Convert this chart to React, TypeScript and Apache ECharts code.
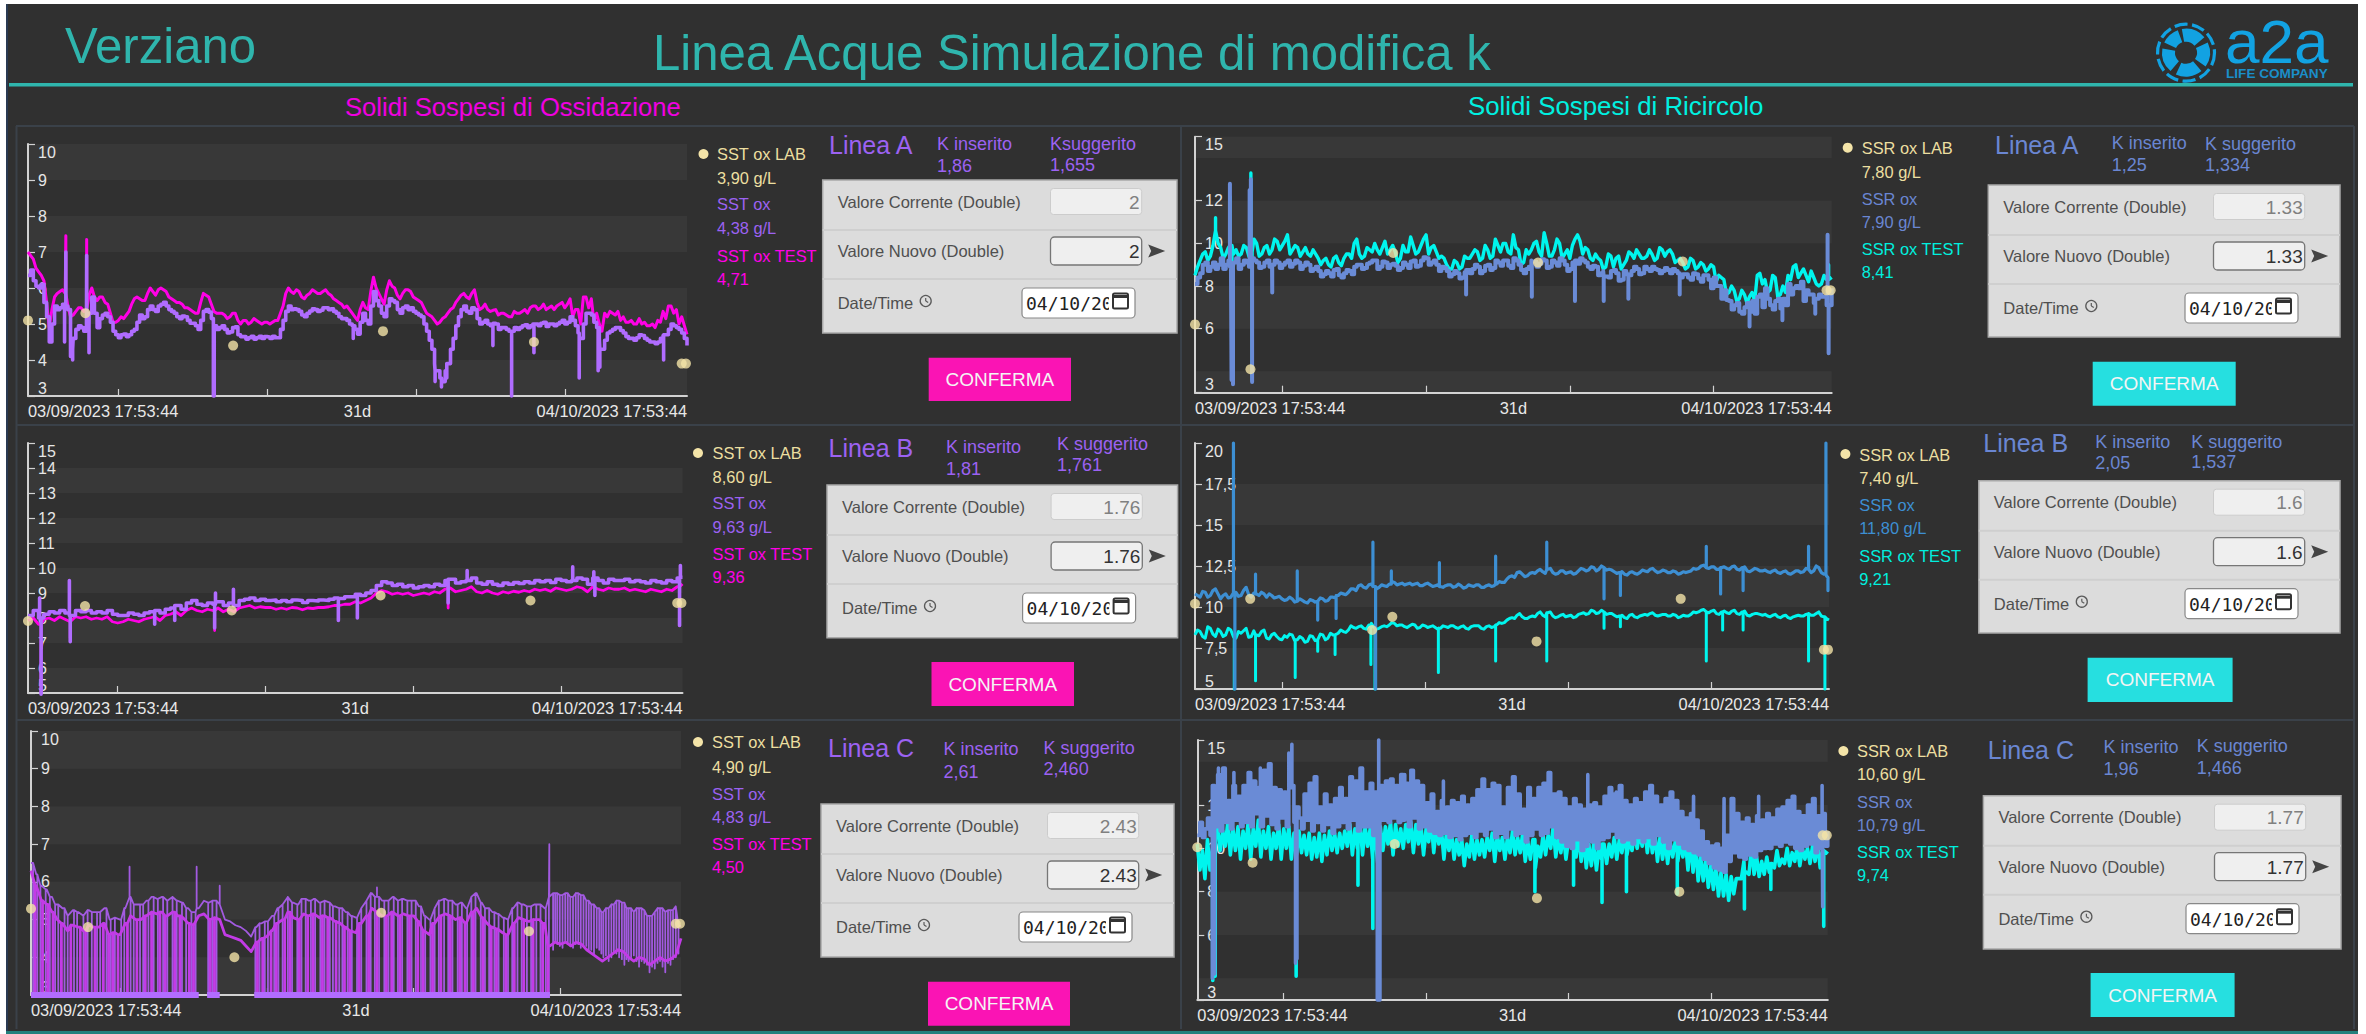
import React, { useEffect, useRef } from "react";
import * as echarts from "echarts";

const FONT = "Liberation Sans, Arial, sans-serif";
const SPAN_DAYS = 31;
const xTickDays = [4.25, 11.25, 18.25, 25.25];
const xLabelDays = [0, 15.5, 31];
const xLabelTexts = ["03/09/2023 17:53:44", "31d", "04/10/2023 17:53:44"];

// ---------- Solidi Sospesi di Ossidazione, Linea A
const a1Ox = [6.35,6.2,6.0,5.6,4.5,5.5,5.45,5.5,4.3,4.85,4.9,4.9,5.75,4.9,5.25,5.2,4.8,4.62,4.72,4.7,4.85,5.25,5.2,5.5,5.35,5.55,5.5,5.35,5.2,5.22,5.1,5.02,4.85,5.35,5.33,4.95,4.9,4.85,4.78,4.92,4.65,4.58,4.66,4.62,4.6,4.64,4.66,4.62,5.1,5.5,5.42,5.35,5.2,5.36,5.4,5.38,5.45,5.42,5.3,5.15,5.1,4.95,4.72,5.3,5.0,5.9,5.5,5.2,5.7,5.6,5.3,5.5,5.45,5.3,5.2,4.8,4.3,3.7,3.4,3.9,4.6,5.2,5.5,5.3,5.4,5.0,5.1,4.95,5.0,4.9,4.85,4.8,4.85,4.95,4.9,5.0,4.95,5.05,5.0,4.95,5.05,5.0,5.2,4.95,4.6,5.3,5.25,4.9,4.3,4.75,4.85,4.9,4.75,4.6,4.55,4.7,4.6,4.5,4.45,4.6,4.7,5.0,4.9,4.75,4.4];
const a1OxMid = [6.5,6.05,6.1,5.2,5.0,5.4,5.55,5.4,4.6,4.95,4.8,5.3,5.3,5.15,5.3,5.05,4.7,4.7,4.65,4.8,5.05,5.15,5.4,5.4,5.5,5.6,5.4,5.3,5.15,5.2,5.02,4.95,5.1,5.4,5.15,4.85,4.95,4.75,4.9,4.7,4.65,4.62,4.58,4.66,4.65,4.6,4.62,4.85,5.35,5.4,5.4,5.25,5.3,5.42,5.35,5.45,5.4,5.35,5.2,5.15,5.0,4.85,5.05,5.1,5.5,5.65,5.3,5.5,5.65,5.4,5.45,5.4,5.35,5.25,5.0,4.55,3.9,3.5,3.7,4.3,4.95,5.4,5.35,5.45,5.15,5.05,5.0,5.02,4.85,4.9,4.8,4.9,4.9,4.98,4.95,5.0,5.02,4.93,5.0,5.0,5.1,5.05,5.1,4.75,5.0,5.3,5.05,4.6,4.55,4.8,4.9,4.82,4.65,4.6,4.62,4.68,4.55,4.5,4.5,4.68,4.85,4.95,4.85,4.6];
const a1OxSpikes = [[1.72,4.5],[1.78,7.0],[2.0,4.1],[2.1,4.0],[2.76,6.9],[2.87,4.2],[8.72,3],[8.76,3],[15.3,4.6],[19.15,3.4],[19.45,3.25],[19.7,3.5],[21.87,4.4],[22.75,3],[23.8,4.2],[25.93,3.5],[26.82,3.7],[26.9,3.8],[29.9,4.0]];
const a1Test = [7.0,6.8,6.45,6.2,4.9,5.75,5.9,5.85,5.2,5.35,5.45,5.4,6.0,5.65,5.75,5.55,5.05,5.1,5.15,5.35,5.7,5.7,5.65,6.0,5.8,6.0,5.9,5.7,5.6,5.55,5.45,5.35,5.3,5.85,5.75,5.35,5.3,5.25,5.2,5.3,5.0,5.1,5.05,5.1,5.0,5.05,5.05,5.1,5.5,6.0,5.85,5.9,5.7,5.85,5.9,5.85,5.95,5.8,5.65,5.55,5.5,5.3,5.1,5.6,5.4,6.3,5.85,5.55,6.2,6.0,5.7,5.95,5.9,5.7,5.6,5.3,5.2,5.0,5.15,5.3,5.45,5.7,5.85,5.7,5.95,5.4,5.55,5.35,5.4,5.3,5.25,5.2,5.3,5.35,5.3,5.5,5.4,5.55,5.45,5.4,5.55,5.45,5.7,5.4,5.0,5.75,5.7,5.3,4.8,5.2,5.3,5.35,5.2,5.05,5.0,5.15,5.05,4.95,4.9,5.05,5.15,5.5,5.4,5.2,4.71];
const a1TestMid = [6.9,6.55,6.35,5.6,5.4,5.85,5.95,5.5,5.25,5.45,5.35,5.8,5.75,5.75,5.6,5.3,5.05,5.2,5.25,5.55,5.75,5.65,5.85,5.9,5.95,5.95,5.75,5.65,5.6,5.45,5.4,5.3,5.6,5.8,5.55,5.3,5.3,5.15,5.3,5.1,5.1,5.0,5.15,5.05,5.05,5.0,5.1,5.3,5.85,5.9,5.95,5.75,5.8,5.95,5.85,5.9,5.85,5.7,5.6,5.45,5.4,5.2,5.4,5.45,5.9,6.0,5.7,5.95,6.05,5.8,5.85,5.95,5.75,5.65,5.45,5.25,5.1,5.05,5.2,5.4,5.6,5.8,5.75,5.85,5.6,5.45,5.4,5.38,5.25,5.3,5.2,5.35,5.3,5.4,5.45,5.5,5.45,5.4,5.5,5.5,5.6,5.55,5.2,5.4,5.75,5.45,5.05,5.0,5.3,5.35,5.25,5.1,5.05,5.1,5.0,5.0,4.95,5.0,5.1,5.35,5.5,5.3,5.0];
const a1TestSpikes = [[1.78,7.45],[2.76,7.35]];
const a1Lab = [[0,5.1],[2.7,5.3],[9.65,4.4],[16.7,4.8],[23.8,4.5],[30.75,3.9],[30.95,3.9]];

// ---------- Linea B
const a2Ox = [8.1,8.3,8.0,8.15,8.25,8.2,8.3,8.2,8.1,8.3,8.25,8.3,8.2,8.25,8.2,8.3,8.15,8.1,8.1,8.2,8.15,8.1,8.2,8.25,8.3,8.2,8.35,8.4,8.5,8.35,8.6,8.7,8.55,8.5,8.6,8.55,8.65,8.5,8.6,8.5,8.7,8.75,8.8,8.7,8.75,8.7,8.72,8.65,8.7,8.65,8.72,8.7,8.62,8.7,8.68,8.72,8.7,8.75,8.8,8.78,8.85,8.85,8.95,8.9,9.0,9.1,9.3,9.45,9.4,9.3,9.35,9.25,9.3,9.2,9.25,9.3,9.25,9.35,9.3,9.5,9.55,9.4,9.45,9.5,9.6,9.4,9.35,9.45,9.35,9.3,9.4,9.35,9.42,9.38,9.45,9.4,9.5,9.45,9.5,9.42,9.55,9.5,9.45,9.5,9.6,9.55,9.35,9.6,9.5,9.4,9.55,9.5,9.5,9.55,9.45,9.5,9.45,9.4,9.5,9.45,9.4,9.5,9.45,9.6,9.63];
const a2OxSpikes = [[0.55,8.8],[0.62,4.95],[1.96,9.5],[2.0,7.05],[6.0,7.75],[6.95,7.9],[8.84,7.6],[8.88,9.0],[9.73,9.15],[14.7,7.9],[15.6,8.0],[19.9,8.6],[20.8,9.9],[25.8,10.05],[26.8,9.85],[26.85,8.9],[30.9,10.1],[30.86,7.7]];
const a2Test = [7.9,8.0,7.75,7.95,8.0,7.9,8.05,7.95,7.85,8.05,8.0,8.05,7.95,8.0,7.95,8.05,7.85,7.8,7.85,7.95,7.9,7.85,7.95,8.0,8.05,7.9,8.1,8.15,8.25,8.1,8.3,8.4,8.3,8.25,8.35,8.3,8.4,8.25,8.35,8.25,8.4,8.45,8.5,8.4,8.45,8.42,8.42,8.35,8.4,8.35,8.42,8.4,8.33,8.4,8.38,8.42,8.42,8.45,8.5,8.5,8.55,8.55,8.65,8.6,8.7,8.8,9.0,9.1,9.05,8.95,9.0,8.95,9.0,8.9,8.95,9.0,8.95,9.05,9.0,9.15,9.2,9.05,9.1,9.15,9.25,9.05,9.0,9.1,9.0,8.95,9.05,9.0,9.07,9.03,9.1,9.05,9.15,9.1,9.15,9.07,9.2,9.15,9.1,9.15,9.25,9.2,9.05,9.25,9.15,9.1,9.2,9.15,9.15,9.2,9.1,9.15,9.1,9.05,9.15,9.1,9.05,9.15,9.1,9.25,9.36];
const a2TestSpikes = [[0.62,5.0],[2.0,7.2],[8.84,7.5],[19.9,8.4],[30.86,7.7]];
const a2Lab = [[0,7.88],[2.7,8.48],[9.65,8.3],[16.7,8.9],[23.8,8.7],[30.75,8.6],[30.95,8.6]];

// ---------- Linea C
const a3Ox = [6.5,6.2,5.9,5.8,5.6,5.4,5.3,5.1,5.25,5.2,5.1,5.25,5.2,5.2,5.3,5.0,5.05,5.0,5.3,5.6,5.4,5.4,5.5,5.6,5.55,5.6,5.5,5.6,5.5,5.45,5.3,5.2,5.3,5.5,5.45,5.5,5.4,5.0,4.95,4.85,4.8,4.7,4.55,4.8,4.9,4.95,5.1,5.3,5.4,5.6,5.45,5.4,5.55,5.5,5.55,5.45,5.5,5.45,5.35,5.3,5.2,5.1,5.05,5.3,5.5,5.7,5.6,5.5,5.5,5.6,5.5,5.55,5.5,5.5,5.35,5.1,5.0,5.3,5.5,5.55,5.5,5.4,5.45,5.3,5.6,5.7,5.45,5.3,5.2,5.15,5.05,5.0,5.3,5.45,5.4,5.35,5.4,5.4,5.3,5.6,5.7,5.65,5.7,5.6,5.7,5.65,5.5,5.4,5.3,5.2,5.3,5.4,5.5,5.45,5.3,5.2,5.3,5.25,5.1,5.2,5.3,5.2,5.25,5.35,4.83];
const a3OxDrops = [0.1,0.3,0.45,0.7,0.9,1.15,1.3,1.6,1.75,2.05,2.2,2.5,2.7,2.9,3.15,3.3,3.6,3.8,4.0,4.3,4.45,4.75,4.9,5.2,5.35,5.6,5.85,6.05,6.3,6.5,6.75,6.95,7.2,7.4,7.65,7.85,8.45,8.65,8.85,10.7,10.9,11.15,11.3,11.6,11.8,12.0,12.25,12.45,12.7,12.9,13.1,13.35,13.55,13.8,14.0,14.25,14.4,14.7,14.85,15.1,15.3,15.55,15.75,16.0,16.2,16.4,16.6,16.85,17.05,17.3,17.5,17.7,17.95,18.15,18.35,18.6,18.8,19.05,19.25,19.45,19.7,19.9,20.1,20.35,20.55,20.8,21.0,21.2,21.45,21.65,21.85,22.1,22.3,22.55,22.75,22.95,23.2,23.4,23.65,23.85,24.1,24.3,24.55,24.7];
const a3OxSpikes = [[4.7,6.4],[7.9,6.4],[9.0,5.9],[16.5,5.85],[24.72,7.0],[24.9,4.2],[25.0,4.4],[25.1,4.35],[25.22,4.3],[25.35,4.25],[25.48,4.4],[25.6,4.4],[25.72,4.3],[25.85,4.25],[25.98,4.35],[26.1,4.35],[26.22,4.25],[26.35,4.3],[26.48,4.3],[26.6,4.2],[26.72,4.2],[26.85,4.1],[26.98,4.25],[27.1,4.2],[27.2,4.1],[27.3,4.0],[27.42,4.05],[27.55,3.9],[27.68,4.0],[27.8,4.15],[27.92,4.1],[28.05,4.0],[28.18,3.95],[28.3,3.8],[28.4,3.95],[28.5,3.9],[28.62,4.0],[28.75,4.05],[28.88,3.9],[29,3.75],[29.12,3.9],[29.25,3.85],[29.38,3.8],[29.5,3.6],[29.62,3.75],[29.75,3.7],[29.88,3.85],[30,3.9],[30.12,3.75],[30.25,3.6],[30.38,3.85],[30.5,3.8],[30.62,3.95],[30.75,4.0],[30.88,4.1]];
const a3Test = [6.3,5.9,5.5,5.4,5.2,5.0,4.9,4.7,4.85,4.8,4.7,4.85,4.8,4.8,4.9,4.6,4.65,4.6,4.9,5.1,5.0,5.0,5.1,5.2,5.15,5.2,5.1,5.2,5.1,5.05,4.9,4.85,5.1,5.15,5.0,5.05,5.0,4.6,4.55,4.5,4.45,4.3,4.15,4.4,4.5,4.55,4.7,4.9,5.0,5.2,5.05,5.0,5.15,5.1,5.15,5.05,5.1,5.05,4.95,4.9,4.8,4.7,4.65,4.9,5.1,5.3,5.2,5.1,5.1,5.2,5.1,5.15,5.1,5.1,4.95,4.7,4.6,4.9,5.1,5.15,5.1,5.0,5.05,4.9,5.2,5.3,5.05,4.9,4.8,4.75,4.65,4.6,4.9,5.05,5.0,4.95,5.0,5.0,4.9,4.3,4.4,4.35,4.4,4.3,4.4,4.35,4.2,4.1,4.0,3.9,4.0,4.1,4.2,4.15,4.0,3.9,4.0,3.95,3.8,3.9,4.0,3.9,3.95,4.05,4.5];
const a3TestDrops = [0.2,0.55,0.8,1.05,1.45,1.9,2.35,2.6,3.05,3.45,3.7,3.9,4.15,4.6,5.05,5.45,5.75,6.15,6.4,6.85,7.1,7.55,7.75,8.55,8.75,10.8,11.05,11.45,11.7,12.1,12.35,12.8,13.2,13.45,13.9,14.15,14.55,14.95,15.2,15.65,16.1,16.5,16.95,17.2,17.6,18.05,18.45,18.7,19.15,19.55,20.0,20.45,20.7,21.1,21.55,21.95,22.2,22.65,23.05,23.5,23.95,24.4,24.65];
const a3Floor = [[0,3],[8.0,3],null,[8.4,3],[9.0,3],null,[10.65,3],[24.75,3]];
const a3Lab = [[0,5.29],[2.72,4.8],[9.7,4.0],[16.7,5.18],[23.75,4.69],[30.75,4.89],[30.95,4.89]];

// ---------- Solidi Sospesi di Ricircolo, Linea A
const b1Ox = [8.1,8.6,9.1,8.9,8.8,9.3,9.0,8.9,9.3,9.0,9.1,9.3,9.1,8.9,9.2,9.0,9.1,9.0,9.2,9.05,9.1,8.95,9.0,8.8,8.7,8.55,8.6,8.75,8.5,8.6,8.7,8.9,9.0,8.85,9.1,9.2,8.9,9.1,9.0,8.95,8.85,9.0,9.15,8.9,9.2,9.3,9.1,9.0,8.9,8.7,8.55,8.6,8.4,8.75,8.8,8.9,8.7,9.0,8.85,9.1,9.2,8.95,9.3,9.0,8.6,8.9,9.15,9.05,9.2,8.9,9.1,9.3,9.0,8.8,9.2,9.3,9.1,8.8,8.9,8.6,8.45,8.7,8.6,8.3,8.55,8.7,8.8,8.6,8.8,8.9,8.75,8.7,8.75,8.8,8.6,8.55,8.4,8.6,8.35,8.5,8.3,8.4,8.0,7.8,7.3,7.1,6.8,7.0,6.8,6.7,7.6,7.9,7.1,7.3,6.95,7.1,7.6,8.0,8.2,7.8,7.6,7.4,7.5,7.1,7.9];
const b1OxMid = [8.4,9.0,8.7,9.1,9.0,8.8,9.2,9.1,8.8,9.2,8.9,9.2,8.85,9.1,8.9,9.2,8.85,9.1,8.9,9.2,8.8,9.1,8.7,8.9,8.45,8.7,8.45,8.8,8.4,8.75,8.55,9.0,8.8,9.05,9.2,8.8,9.15,8.85,9.05,8.75,9.1,8.85,9.2,8.95,9.35,9.0,9.2,8.7,8.85,8.45,8.7,8.35,8.65,8.6,9.0,8.6,8.95,8.75,9.2,8.95,9.2,8.85,9.2,8.75,8.8,9.2,8.9,9.25,8.85,9.2,8.95,9.2,8.7,9.1,9.05,9.2,8.9,8.95,8.5,8.7,8.4,8.75,8.25,8.7,8.5,8.9,8.55,8.9,8.7,8.8,8.6,8.85,8.6,8.7,8.4,8.55,8.3,8.55,8.2,8.5,7.9,8.0,7.4,7.35,6.9,7.2,6.7,7.2,7.3,7.5,7.0,7.4,6.9,7.4,7.4,8.1,7.9,7.9,7.3,7.6,7.2,7.6];
const b1OxSpikes = [[1.7,12.8],[1.78,3.6],[1.85,3.4],[2.66,12.5],[2.72,13.0],[2.78,3.5],[3.76,7.7],[13.2,7.6],[16.4,7.5],[18.5,7.3],[19.9,7.3],[21.1,7.4],[23.6,7.6],[27,6.1],[28.6,6.4],[30.2,6.7],[30.8,10.4],[30.85,4.85]];
const b1Test = [8.5,9.2,9.6,9.4,10.6,9.8,9.5,9.9,9.7,9.5,9.8,9.6,10.0,9.5,9.9,9.7,10.1,9.9,10.4,9.7,9.8,9.6,9.5,9.7,9.3,9.2,9.0,9.3,9.1,9.3,9.5,10.0,9.5,9.4,9.7,10.0,9.5,10.1,9.7,9.6,9.3,9.6,10.3,9.5,9.9,10.4,9.8,9.6,9.4,9.0,8.8,9.1,8.9,9.3,9.5,9.6,9.3,9.7,9.4,9.9,10.0,9.6,10.4,9.7,9.1,9.5,10.0,9.6,10.5,9.4,9.7,10.0,9.5,9.3,10.2,10.1,9.8,9.3,9.5,9.2,8.9,9.4,9.3,8.8,9.2,9.5,9.7,9.3,9.4,9.5,9.3,9.7,9.6,9.5,9.2,9.1,8.9,9.2,8.9,9.0,8.8,8.9,8.5,8.3,7.7,7.8,7.4,7.6,7.5,7.3,8.6,8.3,7.8,8.4,7.6,7.7,8.3,9.0,8.6,8.5,8.7,8.1,8.1,8.3,8.41];
const b1TestMid = [8.9,9.5,9.2,9.9,10.0,9.3,9.8,9.5,9.4,9.9,9.4,10.2,9.4,9.8,9.5,10.2,9.7,10.1,9.5,9.9,9.4,9.8,9.4,9.5,9.0,9.3,8.9,9.4,8.95,9.5,9.3,10.2,9.3,9.8,9.6,9.7,9.8,9.5,9.9,9.1,9.9,9.6,9.9,9.6,10.2,9.5,9.9,9.3,9.3,8.8,9.2,8.8,9.4,9.3,9.7,9.2,9.9,9.3,10.2,9.6,10.0,9.5,9.8,9.0,9.7,9.7,10.1,9.4,10.0,9.4,10.2,9.3,9.7,9.9,10.4,9.5,9.7,9.2,9.3,8.8,9.5,8.9,9.4,9.0,9.6,9.3,9.5,9.3,9.7,9.2,9.8,9.4,9.7,9.1,9.3,8.8,9.3,8.8,9.1,8.7,9.0,8.2,8.4,7.6,8.0,7.3,7.8,7.2,7.7,8.5,8.1,7.7,8.5,7.5,8.0,8.5,8.9,8.4,8.8,8.2,8.4,8.0,8.5];
const b1TestSpikes = [[1.7,12.2],[1.8,3.8],[2.72,13.3],[2.78,3.6],[1.0,11.2],[30.85,9.0]];
const b1Lab = [[0,6.2],[2.7,4.1],[9.65,9.55],[16.7,9.1],[23.75,9.15],[30.75,7.8],[30.95,7.8]];

// ---------- Linea B
const b2Ox = [10.8,10.6,10.9,10.7,11.1,10.5,10.8,10.6,10.9,10.7,11.2,10.6,10.8,10.9,10.6,10.7,10.6,10.5,10.45,10.5,10.35,10.4,10.25,10.4,10.35,10.5,10.4,10.6,10.7,10.8,10.9,11.1,11.3,11.2,11.35,11.25,11.2,11.3,11.4,11.5,11.4,11.35,11.45,11.4,11.3,11.4,11.35,11.3,11.25,11.3,11.35,11.25,11.3,11.2,11.3,11.35,11.2,11.3,11.25,11.4,11.5,11.7,11.9,12.1,12.0,11.9,12.1,12.2,12.15,12.3,12.1,12.05,12.2,12.1,12.0,12.2,12.3,12.25,12.4,12.3,12.4,12.3,12.15,12.1,12.0,12.1,12.05,12.1,12.2,12.3,12.2,12.15,12.2,12.1,12.15,12.05,12.1,12.2,12.3,12.5,12.4,12.45,12.3,12.4,12.35,12.45,12.3,12.4,12.2,12.25,12.3,12.2,12.15,12.2,12.1,12.15,12.05,12.1,12.2,12.15,12.3,12.2,12.4,12.0,11.8];
const b2OxMid = [10.7,10.95,10.6,11.0,10.8,10.7,10.55,10.85,10.65,11.0,10.75,10.85,10.7,10.8,10.8,10.55,10.65,10.4,10.6,10.3,10.5,10.3,10.45,10.3,10.55,10.35,10.6,10.55,10.85,10.75,11.1,11.0,11.35,11.15,11.4,11.1,11.35,11.25,11.55,11.35,11.45,11.4,11.35,11.45,11.3,11.45,11.25,11.35,11.2,11.35,11.2,11.4,11.15,11.35,11.25,11.35,11.2,11.35,11.3,11.55,11.5,11.85,11.8,12.15,11.85,12.05,12.05,12.3,12.05,12.35,12.0,12.2,12.05,12.15,12.05,12.35,12.2,12.45,12.2,12.5,12.25,12.25,12.05,12.15,11.95,12.15,12.0,12.25,12.15,12.35,12.1,12.25,12.1,12.2,12.0,12.15,12.15,12.35,12.35,12.55,12.35,12.45,12.3,12.45,12.3,12.5,12.25,12.45,12.15,12.35,12.2,12.25,12.1,12.25,12.05,12.2,12.0,12.2,12.1,12.35,12.1,12.5,12.1,11.9];
const b2OxSpikes = [[1.88,20],[1.95,5],[2.96,12.0],[5,12.2],[6,9.2],[6.9,9.3],[8.7,13.95],[8.83,5],[9.6,12.2],[11.95,12.7],[14.7,13.1],[17.2,13.95],[20,10.5],[20.8,10.7],[25,13.7],[25.7,10.8],[26.8,11.0],[30,13.7],[30.85,20],[30.95,11]];
const b2Test = [8.3,8.5,8.1,8.7,8.2,8.5,8.3,8.6,8.1,8.4,8.7,8.2,8.3,8.5,8.1,8.3,8.2,8.0,8.15,8.3,8.0,8.1,7.9,8.2,8.0,8.3,8.1,8.3,8.4,8.5,8.6,8.75,8.8,8.7,8.9,8.75,8.7,8.85,8.9,9.0,8.9,8.8,8.85,8.9,8.75,8.85,8.8,8.75,8.7,8.8,8.85,8.75,8.8,8.7,8.8,8.85,8.7,8.8,8.75,8.9,9.0,9.2,9.35,9.5,9.4,9.3,9.45,9.6,9.5,9.65,9.45,9.4,9.55,9.45,9.35,9.55,9.65,9.6,9.75,9.65,9.7,9.6,9.5,9.45,9.35,9.5,9.4,9.45,9.55,9.6,9.5,9.5,9.55,9.45,9.5,9.4,9.45,9.55,9.65,9.8,9.7,9.75,9.6,9.7,9.65,9.75,9.6,9.7,9.5,9.55,9.6,9.5,9.45,9.5,9.4,9.45,9.35,9.4,9.5,9.45,9.6,9.5,9.7,9.4,9.21];
const b2TestMid = [8.6,8.2,8.8,8.35,8.65,8.2,8.7,8.2,8.5,8.55,8.15,8.55,8.25,8.6,8.05,8.4,8.05,8.25,8.35,7.95,8.2,7.85,8.25,7.95,8.35,8.0,8.4,8.3,8.6,8.45,8.85,8.7,8.85,8.65,9.0,8.65,8.8,8.8,9.05,8.85,8.9,8.75,8.95,8.7,8.9,8.75,8.85,8.65,8.85,8.75,8.85,8.7,8.85,8.65,8.85,8.85,8.65,8.85,8.8,9.05,9.05,9.3,9.3,9.6,9.3,9.4,9.4,9.7,9.4,9.7,9.35,9.5,9.4,9.5,9.4,9.6,9.55,9.8,9.6,9.8,9.55,9.6,9.4,9.5,9.3,9.55,9.35,9.5,9.5,9.65,9.45,9.55,9.45,9.55,9.35,9.5,9.45,9.7,9.7,9.85,9.65,9.8,9.55,9.75,9.6,9.8,9.55,9.75,9.45,9.6,9.55,9.55,9.4,9.55,9.35,9.5,9.3,9.45,9.45,9.55,9.5,9.6,9.45,9.3];
const b2TestSpikes = [[1.92,5],[2.96,5.5],[4.9,5.7],[6,7.3],[6.85,7.1],[8.6,6.5],[8.8,5],[11.9,6],[14.7,6.7],[17.2,6.7],[20,8.7],[20.8,8.8],[25,6.7],[25.8,8.6],[26.8,8.6],[30,6.7],[30.8,5]];
const b2Lab = [[0,10.2],[2.7,10.5],[8.66,8.6],[9.65,9.4],[16.7,7.9],[23.75,10.5],[30.75,7.4],[30.95,7.4]];

// ---------- Linea C
const b3Ox = [10.6,11.2,10.5,10.9,11.4,10.6,12.9,11.0,13.4,10.8,13.7,11.2,12.2,10.9,12.9,11.3,12.4,11.0,12.9,11.2,13.5,11.0,13.1,11.6,12.8,11.0,13.6,11.5,13.9,11.1,12.8,10.9,12.7,11.4,12.6,11.0,12.8,12.9,11.2,11.9,11.4,10.9,12.5,11.3,13.0,10.8,13.3,11.2,11.9,10.8,12.5,11.1,12.0,10.7,12.3,11.0,12.8,11.2,12.3,10.9,13.3,11.3,13.1,10.8,13.7,11.0,12.6,11.0,13.0,10.6,12.6,11.1,12.9,11.3,13.1,11.2,13.2,11.4,12.9,11.2,13.4,11.3,13.0,11.0,13.6,11.4,13.1,10.9,12.9,11.0,12.1,10.8,12.5,10.7,11.7,10.6,12.2,10.7,11.9,10.5,12.2,10.6,12.1,10.4,12.4,10.6,12.0,10.7,12.3,10.5,12.7,10.8,13.2,10.6,12.7,10.9,13.0,10.5,12.9,10.7,11.9,10.5,12.8,10.9,13.3,10.6,12.5,10.7,11.8,10.3,12.8,10.6,12.3,10.9,12.8,10.6,13.0,10.7,13.5,11.0,12.5,10.5,12.6,10.3,12.3,10.1,11.9,10.0,12.3,10.4,12.0,9.9,11.8,10.1,12.0,10.3,12.1,10.0,11.9,10.4,12.4,10.5,12.8,10.8,12.5,10.5,12.9,10.3,12.2,10.4,12.0,10.2,12.3,10.5,12.1,10.3,12.6,10.5,12.9,10.2,12.4,10.6,12.0,10.3,12.3,10.0,12.6,10.4,12.2,10.2,11.7,10.0,11.4,9.9,11.6,9.8,11.3,9.7,10.8,9.5,10.3,9.3,10.1,9.1,10.2,9.0,10.0,8.9,10.6,9.4,12.3,9.8,11.6,9.6,11.2,9.5,11.4,9.7,11.1,9.6,11.5,9.9,11.3,10.0,11.6,10.0,11.4,10.2,11.8,10.1,11.9,10.3,12.2,10.2,12.4,10.0,11.7,9.9,11.5,10.1,12.0,10.2,12.3,9.8,11.5,10.0,11.6,10.1,10.79];
const b3OxSpikes = [[0.74,4.0],[0.85,4.2],[1.04,13.7],[1.8,13.5],[3.1,13.7],[4.5,14.4],[4.65,14.8],[4.83,4.7],[4.9,4.9],[8.85,3],[8.92,15],[8.98,3],[10.2,13.4],[12.1,13.1],[15.5,13.0],[17.3,13.2],[19.2,13.4],[20.6,12.6],[22.3,12.7],[24.4,12.4],[25.9,12.3],[27.6,12.4],[30.75,7.3],[30.72,12.9]];
const b3Test = [10.2,9.9,10.4,10.0,10.9,10.8,11.2,10.9,11.0,10.8,11.2,10.9,11.3,10.8,11.0,10.7,11.1,10.9,11.0,10.7,10.8,10.6,10.7,10.5,10.7,10.6,10.8,10.7,10.7,10.8,11.1,10.9,11.2,11.0,10.9,10.5,11.0,11.0,11.2,11.1,10.9,11.1,11.2,11.1,11.0,10.9,11.3,11.0,10.9,10.7,10.7,10.4,10.4,10.2,10.6,10.4,10.4,10.5,10.7,10.6,10.5,10.5,10.8,10.5,10.7,10.3,10.4,10.1,10.6,10.6,11.0,10.5,10.7,10.4,11.1,10.7,10.5,10.2,10.3,10.0,10.2,10.2,10.5,10.4,10.4,10.4,10.8,10.7,11.0,10.8,10.7,10.5,10.4,10.3,10.3,10.3,10.4,10.4,10.2,9.6,9.5,9.2,9.2,8.9,8.8,8.7,8.6,8.6,8.9,10.1,9.6,9.4,9.6,9.3,9.9,9.5,10.0,9.8,10.1,10.0,10.0,10.1,10.3,9.9,9.74];
const b3TestMid = [9.0,8.6,9.0,9.3,9.9,10.1,9.7,9.9,9.5,10.0,9.5,10.1,9.6,10.0,9.5,10.0,9.5,10.0,9.5,9.7,9.8,9.7,9.5,9.6,9.4,9.7,9.9,9.8,10.0,10.1,9.7,10.0,9.7,10.1,9.5,9.3,9.9,10.2,9.7,10.1,10.0,10.3,9.8,10.2,9.7,10.3,9.8,10.2,9.5,9.9,9.5,9.7,9.2,9.6,9.5,9.7,9.6,9.9,9.4,9.9,9.5,9.8,9.7,9.8,9.4,9.5,9.1,9.6,9.7,10.0,9.6,9.8,9.5,10.1,9.6,9.4,9.1,9.2,9.0,9.5,9.3,9.6,9.5,9.8,9.7,9.9,10.0,10.1,9.8,9.8,9.4,9.5,9.3,9.6,9.4,9.6,9.0,8.9,8.5,8.5,8.2,8.1,7.8,7.8,7.6,7.9,8.6,9.4,8.8,8.8,8.7,8.8,8.9,9.1,9.2,9.3,9.2,9.4,9.2,9.5,9.3,9.4,9.1];
const b3TestSpikes = [[0.76,3.9],[0.88,4.1],[4.86,4.1],[7.9,8.3],[8.63,6.3],[16.6,8.0],[18.5,8.3],[19.9,7.5],[21.1,8],[23.6,7.9],[26.9,7.2],[28.2,8.1],[30.8,6.4]];
const b3Lab = [[0,10.05],[2.72,9.34],[9.7,10.2],[16.7,7.7],[23.7,8.0],[30.75,10.6],[30.95,10.6]];

// ---------- axes
const yLabelsA1 = [3,4,5,6,7,8,9,10];
const yLabelsA2 = [5,6,7,8,9,10,11,12,13,14,15];
const yLabelsB1 = [3,6,8,10,12,15];
const yLabelsB2 = [5,7.5,10,12.5,15,17.5,20];
const yBandsB = [3,4,6,8,10,12,14,15];

const PURPLE = "#b06cff", PURPLE_TXT = "#9c62f2", MAGENTA = "#ff00e6", PERI = "#6a8bd6", PERI_TXT = "#6a86d2", STEEL = "#3d8fd3", CYAN = "#00f5ee", CYAN_TXT = "#00eede", LABC = "#f4e4a8", LABTXT = "#ecdfa0";
const PINK_BTN = "#fa14b4", CYAN_BTN = "#26dfe0";

const panels = [
  { grid:[28,144,659,252], min:3, max:10, labels:yLabelsA1, bands:yLabelsA1, ox:a1Ox, oxMid:a1OxMid, oxSp:a1OxSpikes, test:a1Test, testMid:a1TestMid, testSp:a1TestSpikes, lab:a1Lab, oxC:PURPLE, testC:MAGENTA, w:[3.6,3], oxStep:"end",
    dot:[703.5,154], legX:717, legY:[154,178,204,228,256,279], legT:["SST ox LAB","3,90 g/L","SST ox","4,38 g/L","SST ox TEST","4,71"], legC:[LABTXT,LABTXT,PURPLE_TXT,PURPLE_TXT,MAGENTA,MAGENTA],
    name:"Linea A", nameP:[829,145], nameC:PURPLE_TXT, ki:[937,144,"K inserito"], kiv:[937,166,"1,86"], ks:[1050,144,"Ksuggerito"], ksv:[1050,164.5,"1,655"],
    box:[822.7,180,1177,333], cur:"2", btn:[928.7,357.7,1071,401], btnC:PINK_BTN },
  { grid:[28,443,654.5,250], min:5, max:15, labels:yLabelsA2, bands:yLabelsA2, ox:a2Ox, oxSp:a2OxSpikes, test:a2Test, testSp:a2TestSpikes, lab:a2Lab, oxC:PURPLE, testC:MAGENTA, w:[3.6,2.8], oxStep:"end",
    dot:[698,453], legX:712.6, legY:[453,476.7,503,527,554,577], legT:["SST ox LAB","8,60 g/L","SST ox","9,63 g/L","SST ox TEST","9,36"], legC:[LABTXT,LABTXT,PURPLE_TXT,PURPLE_TXT,MAGENTA,MAGENTA],
    name:"Linea B", nameP:[828.5,448], nameC:PURPLE_TXT, ki:[946,446.7,"K inserito"], kiv:[946,469,"1,81"], ks:[1057,444,"K suggerito"], ksv:[1057,465,"1,761"],
    box:[827,485,1177.6,637.7], cur:"1.76", btn:[931.5,662,1074,706], btnC:PINK_BTN },
  { grid:[31,731,650,264], min:3, max:10, labels:yLabelsA1, bands:yLabelsA1, ox:a3Ox, oxSp:[...a3OxSpikes, ...a3OxDrops.map((d)=>[d,3])], test:a3Test, testSp:a3TestDrops.map((d)=>[d,3]), lab:a3Lab, oxC:"#a25ae0", testC:"#c23be6", w:[1.8,2.8], testOnTop:true, floor:a3Floor,
    dot:[698,742], legX:712, legY:[742,766.7,794,817,844,866.7], legT:["SST ox LAB","4,90 g/L","SST ox","4,83 g/L","SST ox TEST","4,50"], legC:[LABTXT,LABTXT,PURPLE_TXT,PURPLE_TXT,MAGENTA,MAGENTA],
    name:"Linea C", nameP:[828,748], nameC:PURPLE_TXT, ki:[943.6,749,"K inserito"], kiv:[943.6,771.7,"2,61"], ks:[1043.6,748,"K suggerito"], ksv:[1043.6,769,"2,460"],
    box:[821,804,1174,957], cur:"2.43", btn:[928,981.7,1070,1025.7], btnC:PINK_BTN },
  { grid:[1195,136.7,636.7,256], min:3, max:15, labels:yLabelsB1, bands:yBandsB, ox:b1Ox, oxMid:b1OxMid, oxSp:b1OxSpikes, test:b1Test, testMid:b1TestMid, testSp:b1TestSpikes, lab:b1Lab, oxC:PERI, testC:CYAN, w:[4,3.4], oxStep:"end",
    dot:[1847.7,147.7], legX:1861.7, legY:[148,171.7,199,222,249,272], legT:["SSR ox LAB","7,80 g/L","SSR ox","7,90 g/L","SSR ox TEST","8,41"], legC:[LABTXT,LABTXT,PERI_TXT,PERI_TXT,CYAN_TXT,CYAN_TXT],
    name:"Linea A", nameP:[1995,145], nameC:PERI_TXT, ki:[2111.7,143,"K inserito"], kiv:[2111.7,165,"1,25"], ks:[2205,144,"K suggerito"], ksv:[2205,165,"1,334"],
    box:[1988.3,185,2340,337], cur:"1.33", btn:[2092.7,361.7,2235.7,405.7], btnC:CYAN_BTN },
  { grid:[1195,443,634,246], min:5, max:20, labels:yLabelsB2, bands:yLabelsB2, ox:b2Ox, oxMid:b2OxMid, oxSp:b2OxSpikes, test:b2Test, testMid:b2TestMid, testSp:b2TestSpikes, lab:b2Lab, oxC:STEEL, testC:CYAN, w:[3.2,3],
    dot:[1845.4,454], legX:1859.2, legY:[454.7,477.7,505,528,555.7,579], legT:["SSR ox LAB","7,40 g/L","SSR ox","11,80 g/L","SSR ox TEST","9,21"], legC:[LABTXT,LABTXT,STEEL,STEEL,CYAN_TXT,CYAN_TXT],
    name:"Linea B", nameP:[1983.3,443], nameC:PERI_TXT, ki:[2095.3,441.7,"K inserito"], kiv:[2095.3,463,"2,05"], ks:[2191.3,441.7,"K suggerito"], ksv:[2191.3,462,"1,537"],
    box:[1978.8,480.7,2340,633], cur:"1.6", btn:[2087.6,657.7,2232.6,702], btnC:CYAN_BTN },
  { grid:[1197.3,740,630.5,260], min:3, max:15, labels:yLabelsB1, bands:yBandsB, ox:b3Ox, oxSp:b3OxSpikes, test:b3Test, testMid:b3TestMid, testSp:b3TestSpikes, lab:b3Lab, oxC:PERI, testC:CYAN, w:[3.6,3.6], oxStep:"end",
    dot:[1843.4,751], legX:1857, legY:[751,774,801.7,825,851.7,875], legT:["SSR ox LAB","10,60 g/L","SSR ox","10,79 g/L","SSR ox TEST","9,74"], legC:[LABTXT,LABTXT,PERI_TXT,PERI_TXT,CYAN_TXT,CYAN_TXT],
    name:"Linea C", nameP:[1987.8,750], nameC:PERI_TXT, ki:[2103.5,747,"K inserito"], kiv:[2103.5,769,"1,96"], ks:[2196.7,746,"K suggerito"], ksv:[2196.7,767.7,"1,466"],
    box:[1983.4,795.7,2341,949], cur:"1.77", btn:[2090.6,973,2234.6,1017], btnC:CYAN_BTN },
];

function withSpikes(values: number[], spikes: number[][], mid: number[] = []) {
  const step = SPAN_DAYS / (values.length - 1);
  const pts: number[][] = values.map((v, i) => [i * step, v]);
  mid.forEach((v, i) => { if (i < values.length - 1) pts.push([(i + 0.5) * step, v]); });
  for (const [d, tip] of spikes) {
    const base = values[Math.min(values.length - 1, Math.round(d / step))];
    pts.push([d, base], [d, tip], [d, base]);
  }
  return pts.sort((a, b) => a[0] - b[0]);
}

const T = (text: string, x: number, y: number, size: number, fill: string, extra: any = {}) => ({
  type: "text", x, y, silent: true,
  style: { text, fontSize: size, fontFamily: FONT, fill, verticalAlign: "middle", align: "left", ...extra },
});
const R = (x: number, y: number, w: number, h: number, fill: string, stroke?: string, r = 0, lw = 1) => ({
  type: "rect", silent: true, shape: { x, y, width: w, height: h, r },
  style: { fill, stroke: stroke || "none", lineWidth: lw },
});
const L = (x1: number, y1: number, x2: number, y2: number, stroke: string, lw = 1) => ({
  type: "line", silent: true, shape: { x1, y1, x2, y2 }, style: { stroke, lineWidth: lw },
});

function formElements(p: any) {
  const [x0, y0, x1, y1] = p.box;
  const els: any[] = [];
  els.push(R(x0, y0, x1 - x0, y1 - y0, "#dcdcdc", "#a8a8a8", 0, 1.5));
  els.push(L(x0, y0 + 50, x1, y0 + 50, "#cfcfcf", 2));
  els.push(L(x0, y0 + 99, x1, y0 + 99, "#cfcfcf", 2));
  const lx = x0 + 15;
  els.push(T("Valore Corrente (Double)", lx, y0 + 21.5, 16.5, "#4f4f4f"));
  els.push(T("Valore Nuovo (Double)", lx, y0 + 71, 16.5, "#4f4f4f"));
  els.push(T("Date/Time", lx, y0 + 123, 16.5, "#4f4f4f"));
  // history icon
  const cx = lx + 88, cy = y0 + 121;
  els.push({ type: "circle", silent: true, shape: { cx, cy, r: 5.5 }, style: { fill: "none", stroke: "#5a5a5a", lineWidth: 1.3 } });
  els.push(L(cx, cy - 3, cx, cy, "#5a5a5a", 1.2));
  els.push(L(cx, cy, cx + 2.5, cy + 1.5, "#5a5a5a", 1.2));
  const ix0 = x1 - 126.5, ix1 = x1 - 35.3;
  els.push(R(ix0, y0 + 8.5, ix1 - ix0, 26, "#efefef", "#cccccc", 3));
  els.push(T(p.cur, ix1 - 2, y0 + 22, 19, "#808080", { align: "right" }));
  els.push(R(ix0, y0 + 57, ix1 - ix0, 28, "#efefef", "#767676", 4, 1.3));
  els.push(T(p.cur, ix1 - 2, y0 + 71.5, 19, "#333333", { align: "right" }));
  const ax = ix1 + 6.5, ay = y0 + 71;
  els.push({ type: "polygon", silent: true, shape: { points: [[ax, ay - 6.5], [ax + 17, ay], [ax, ay + 6.5], [ax + 3, ay]] }, style: { fill: "#444444" } });
  const dx0 = x1 - 155, dx1 = x1 - 42;
  els.push(R(dx0, y0 + 108, dx1 - dx0, 30, "#ffffff", "#888888", 4, 1.2));
  els.push(T("04/10/20", dx0 + 4, y0 + 123.5, 18, "#222222", { fontFamily: "DejaVu Sans Mono, monospace" }));
  els.push(R(dx0 + 87, y0 + 111, 4, 24, "#ffffff"));
  els.push(R(dx0 + 91, y0 + 113.5, 15, 15, "#ffffff", "#333333", 1.5, 2));
  els.push(L(dx0 + 91, y0 + 116.5, dx0 + 106, y0 + 116.5, "#333333", 3));
  const [bx0, by0, bx1, by1] = p.btn;
  els.push(R(bx0, by0, bx1 - bx0, by1 - by0, p.btnC));
  els.push(T("CONFERMA", (bx0 + bx1) / 2, (by0 + by1) / 2, 19, "#f4f4f4", { align: "center" }));
  return els;
}

function legendElements(p: any) {
  const els: any[] = [];
  els.push({ type: "circle", silent: true, shape: { cx: p.dot[0], cy: p.dot[1], r: 5 }, style: { fill: LABC } });
  p.legT.forEach((t: string, i: number) => els.push(T(t, p.legX, p.legY[i], 16.4, p.legC[i])));
  els.push(T(p.name, p.nameP[0], p.nameP[1], 25, p.nameC));
  [p.ki, p.kiv, p.ks, p.ksv].forEach((k: any[]) => els.push(T(k[2], k[0], k[1], 18, p.nameC)));
  return els;
}

function logoElements() {
  const c = "#12a2e2", cx = 2186, cy = 52.7;
  const els: any[] = [];
  els.push({ type: "circle", silent: true, shape: { cx, cy, r: 28.5 }, style: { fill: "none", stroke: c, lineWidth: 3.2, lineDash: [13, 4.5] } });
  const deg = Math.PI / 180;
  [[-100, -40], [-25, 35], [50, 115], [130, 190], [205, 250]].forEach(([a, b]) =>
    els.push({ type: "sector", silent: true, shape: { cx, cy, r: 24, r0: 11, startAngle: a * deg, endAngle: b * deg }, style: { fill: c } }));
  els.push(T("a2a", 2225, 41, 62, c));
  els.push(T("LIFE COMPANY", 2226, 73, 13.6, "#1a8ec9", { fontWeight: "bold" }));
  return els;
}

function buildOption() {
  const grids: any[] = [], xAxes: any[] = [], yAxes: any[] = [], series: any[] = [];
  panels.forEach((p: any, i) => {
    const [left, top, width, height] = p.grid;
    grids.push({ left, top, width, height, containLabel: false, show: false });
    xAxes.push({
      type: "value", gridIndex: i, min: 0, max: SPAN_DAYS, splitLine: { show: false },
      axisLine: { show: true, onZero: false, lineStyle: { color: "#d2d2d2", width: 2 } },
      axisTick: { show: true, inside: true, length: 7, customValues: xTickDays, lineStyle: { color: "#d2d2d2", width: 1.2 } },
      axisLabel: { show: true, customValues: xLabelDays, margin: 7, fontSize: 16.4, fontFamily: FONT, color: "#e8e8e8", alignMinLabel: "left", alignMaxLabel: "right",
        formatter: (v: number) => xLabelTexts[xLabelDays.indexOf(v)] ?? "" },
    });
    yAxes.push({
      type: "value", gridIndex: i, min: p.min, max: p.max, position: "left", z: 0,
      axisLine: { show: false }, axisTick: { show: false, customValues: p.bands }, axisLabel: { show: false, customValues: p.bands },
      splitLine: { show: false }, splitArea: { show: true, interval: 0, areaStyle: { color: ["#383838", "rgba(0,0,0,0)"] } },
    });
    yAxes.push({
      type: "value", gridIndex: i, min: p.min, max: p.max, position: "left", offset: 0,
      splitLine: { show: false }, splitArea: { show: false },
      axisLine: { show: true, onZero: false, lineStyle: { color: "#d2d2d2", width: 2 } },
      axisTick: { show: true, inside: true, length: 7, customValues: p.labels, lineStyle: { color: "#d2d2d2", width: 1.2 } },
      axisLabel: { show: true, inside: true, customValues: p.labels, margin: 10, fontSize: 16, fontFamily: FONT, color: "#e6e6e6",
        verticalAlignMinLabel: "bottom", verticalAlignMaxLabel: "top", formatter: (v: number) => String(v).replace(".", ",") },
    });
    const yIdx = i * 2;
    const mk = (name: string, data: any, color: string, w: number, z: number, step: any = false) => ({
      type: "line", name, xAxisIndex: i, yAxisIndex: yIdx, data, showSymbol: false, symbol: "none", clip: false, z, connectNulls: false, step,
      lineStyle: { color, width: w, join: "round" }, itemStyle: { color }, silent: true,
    });
    const isB = i > 2;
    const prefix = isB ? "SSR" : "SST";
    series.push(mk(`${prefix} ox`, withSpikes(p.ox, p.oxSp, p.oxMid), p.oxC, p.w[0], p.testOnTop ? 4 : 5, p.oxStep || false));
    series.push(mk(`${prefix} ox TEST`, withSpikes(p.test, p.testSp, p.testMid), p.testC, p.w[1], p.testOnTop ? 5 : 4));
    if (p.floor) series.push(mk(`${prefix} ox`, p.floor, "#b26cff", 6, 6));
    series.push({ type: "scatter", name: `${prefix} ox LAB`, xAxisIndex: i, yAxisIndex: yIdx, data: p.lab, symbolSize: 10, clip: false, z: 7, silent: true, itemStyle: { color: LABC } });
  });
  const graphics: any[] = [];
  graphics.push(T("Verziano", 65, 46, 49.1, "#2fb5ad"));
  graphics.push(T("Linea Acque Simulazione di modifica k", 653, 53, 49.1, "#2fb5ad"));
  graphics.push(R(9, 83, 2344, 3.6, "#2fb5ad"));
  graphics.push(T("Solidi Sospesi di Ossidazione", 345, 107, 25.6, "#f000e0"));
  graphics.push(T("Solidi Sospesi di Ricircolo", 1468, 106, 25.8, "#00f0e0"));
  [126, 425, 720].forEach((y) => graphics.push(L(16, y, 2354, y, "#3a4149", 2)));
  graphics.push(L(16.5, 126, 16.5, 1029, "#3a4149", 2));
  graphics.push(L(1181, 126, 1181, 1029, "#3a4149", 2));
  graphics.push(L(2354, 126, 2354, 1029, "#3a4149", 2));
  graphics.push(R(6, 1031, 2352, 3, "#23807c"));
  graphics.push(...logoElements());
  panels.forEach((p) => { graphics.push(...legendElements(p), ...formElements(p)); });
  return {
    animation: false, backgroundColor: "transparent",
    grid: grids, xAxis: xAxes, yAxis: yAxes, series,
    graphic: { elements: graphics },
    tooltip: { show: false }, legend: { show: false },
  };
}

export default function App() {
  const ref = useRef<HTMLDivElement>(null);
  useEffect(() => {
    document.body.style.margin = "0";
    document.body.style.background = "#ffffff";
    const chart = echarts.init(ref.current!, undefined, { renderer: "svg", width: 2366, height: 1034 });
    chart.setOption(buildOption() as any);
    return () => chart.dispose();
  }, []);
  return (
    <div style={{ position: "relative", width: 2366, height: 1034, overflow: "hidden" }}>
      <div style={{ position: "absolute", left: 6, top: 4, width: 2352, height: 1030, background: "#303030", borderLeft: "2px solid #2a3a52", boxSizing: "border-box" }} />
      <div ref={ref} style={{ position: "absolute", left: 0, top: 0, width: 2366, height: 1034 }} />
    </div>
  );
}
